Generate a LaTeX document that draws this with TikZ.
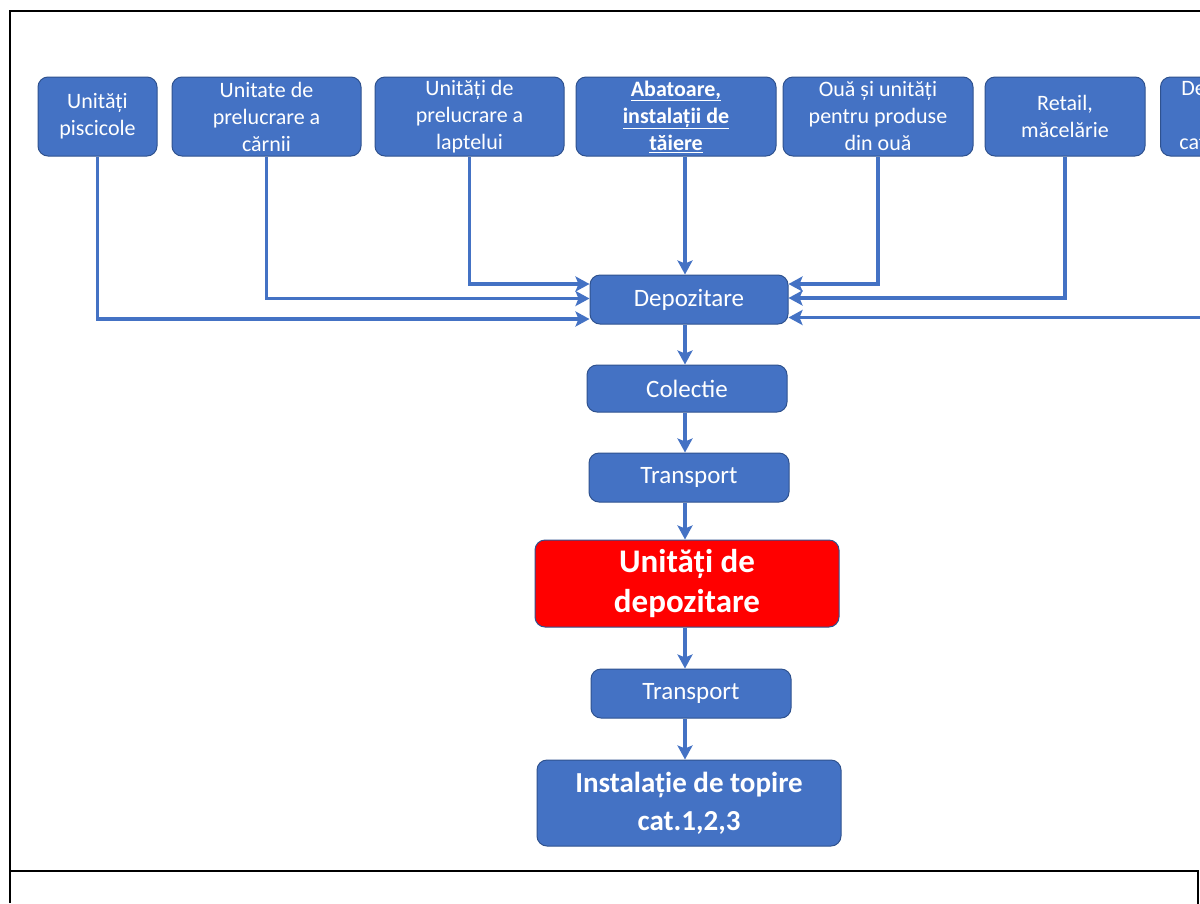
\documentclass[tikz,border=0pt]{standalone}
\usepackage{fontspec}
\setmainfont{Carlito}
\usetikzlibrary{arrows.meta,calc}
\definecolor{boxblue}{HTML}{4472C4}
\definecolor{boxedge}{HTML}{2F528F}
\definecolor{boxred}{HTML}{FF0000}
\begin{document}
\begin{tikzpicture}[x=1pt,y=-1pt,
  box/.style={draw=boxedge, line width=1pt, fill=boxblue, rounded corners=10pt,
    text=white, align=center, inner sep=0pt},
  topbox/.style={box, minimum height=79pt, font=\fontsize{22}{27}\selectfont},
  midbox/.style={box, minimum width=200pt, minimum height=49pt, font=\fontsize{25}{30}\selectfont},
  flow/.style={draw=boxblue, line width=3.4pt, -{Stealth[length=14pt,width=15pt,inset=3pt]}},
  frame/.style={draw=black, line width=2.5pt}]
\clip (0,0) rectangle (1200,903);
\fill[white] (0,0) rectangle (1200,903);

% frame
\draw[frame] (10,903) -- (10,11) -- (1202,11);
\draw[frame] (10,871) -- (1198,871) -- (1198,905);

% top row
\node[topbox, minimum width=119pt] (p1) at (97.5,116.5) {Unități\\piscicole};
\node[topbox, minimum width=189pt] (p2) at (266.5,116.5) {Unitate de\\prelucrare a\\cărnii};
\node[topbox, minimum width=189pt] (p3) at (469.5,116.5) {Unități de\\prelucrare a\\laptelui};
\node[topbox, minimum width=200pt, font=\fontsize{22}{27}\selectfont\bfseries] (p4) at (676,116.5) {\underline{Abatoare,}\\\underline{instalații de}\\\underline{tăiere}};
\node[topbox, minimum width=190pt] (p5) at (878,116.5) {Ouă și unități\\pentru produse\\din ouă};
\node[topbox, minimum width=160pt] (p6) at (1065,116.5) {Retail,\\măcelărie};
\node[topbox, minimum width=110pt] (p7) at (1215.5,116.5) {Deșeuri\\de\\catering};

% column
\coordinate (ax) at (685,0);
\node[midbox, minimum width=198pt] (dep) at (689,299.5) {Depozitare};
\node[midbox, minimum height=47pt] (col) at (687,388.5) {Colectie};
\node[midbox] (tr1) at (689,477.5) {\raisebox{-2pt}{Transport}};
\node[box, fill=boxred, minimum width=304pt, minimum height=87pt,
  font=\fontsize{33}{40}\selectfont\bfseries] (red) at (687,583.5) {Unități de\\depozitare};
\node[midbox] (tr2) at (691,693.5) {\raisebox{-2pt}{Transport}};
\node[box, minimum width=304pt, minimum height=86pt,
  font=\fontsize{29}{38}\selectfont\bfseries] (ins) at (689,803) {Instalație de topire\\cat.1,2,3};

% inputs to Depozitare
\draw[flow] (p1.south) |- ([yshift=-19.5pt]dep.west);
\draw[flow] (p2.south) |- ([yshift=1pt]dep.west);
\draw[flow] (p3.south) |- ([yshift=15.5pt]dep.west);
\draw[flow] (p4.south -| ax) -- (dep.north -| ax);
\draw[flow] (p5.south) |- ([yshift=15.5pt]dep.east);
\draw[flow] (p6.south) |- ([yshift=1.5pt]dep.east);
\draw[flow] (p7.south) |- ([yshift=-18pt]dep.east);

% chain
\draw[flow] (dep.south -| ax) -- (col.north -| ax);
\draw[flow] (col.south -| ax) -- (tr1.north -| ax);
\draw[flow] (tr1.south -| ax) -- (red.north -| ax);
\draw[flow] (red.south -| ax) -- (tr2.north -| ax);
\draw[flow] (tr2.south -| ax) -- (ins.north -| ax);
\end{tikzpicture}
\end{document}
